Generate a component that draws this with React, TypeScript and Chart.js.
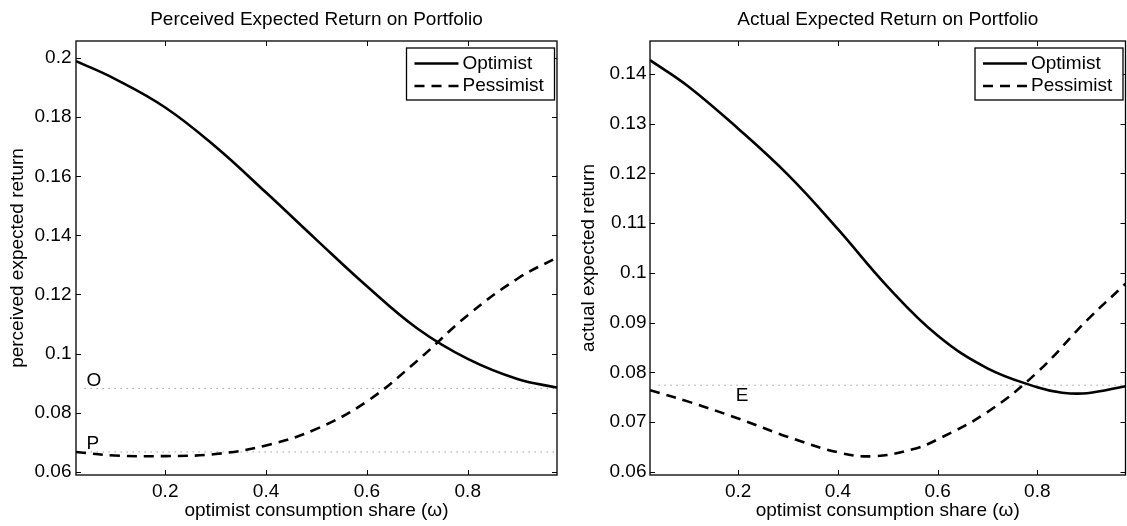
import React, { useEffect, useRef } from "react";
import { Chart, registerables } from "chart.js";

Chart.register(...registerables);

// ---------- data ----------
const omegaGrid = [0.023, 0.1, 0.2, 0.3, 0.4, 0.5, 0.6, 0.7, 0.8, 0.9, 0.977];

const perceivedOptimist = [0.199, 0.193, 0.1833, 0.170, 0.1545, 0.1385, 0.1228, 0.1085, 0.0982, 0.0913, 0.0885];
const perceivedPessimist = [0.0667, 0.0655, 0.0653, 0.066, 0.0689, 0.0745, 0.0838, 0.0976, 0.113, 0.1255, 0.1325];

const omegaActualOpt = [0.023, 0.1, 0.2, 0.3, 0.4, 0.5, 0.6, 0.7, 0.8, 0.85, 0.9, 0.977];
const actualOptimist = [0.1428, 0.1375, 0.129, 0.1197, 0.1088, 0.0972, 0.0874, 0.0808, 0.077, 0.0759, 0.0758, 0.0772];

const omegaActualPes = [0.023, 0.1, 0.2, 0.3, 0.4, 0.47, 0.55, 0.6, 0.7, 0.8, 0.9, 0.977];
const actualPessimist = [0.0764, 0.0741, 0.0707, 0.067, 0.0639, 0.0631, 0.0645, 0.0665, 0.072, 0.08, 0.0905, 0.0978];

const refO = 0.0882;
const refP = 0.0667;
const refE = 0.0774;
const refStart = 0.04;

const xTicks = [0.2, 0.4, 0.6, 0.8];
const yTicksPerceived = [0.06, 0.08, 0.1, 0.12, 0.14, 0.16, 0.18, 0.2];
const yTicksActual = [0.06, 0.07, 0.08, 0.09, 0.1, 0.11, 0.12, 0.13, 0.14];

const xMin = 0.023;
const xMax = 0.977;

const seriesLabels = ["Optimist", "Pessimist"];

// ---------- styling ----------
const FONT = "'Liberation Sans', Arial, Helvetica, sans-serif";
const FS = 19;
const PAGE_H = 526;

const zip = (xs: number[], ys: number[]) => xs.map((x, i) => ({ x, y: ys[i] }));

type RefLabel = { text: string; x: number; y: number; below: boolean };

type PanelSpec = {
  title: string;
  yTitle: string;
  yTicks: number[];
  yMin: number;
  yMax: number;
  optX: number[];
  optY: number[];
  pesX: number[];
  pesY: number[];
  refs: number[];
  refLabels: RefLabel[];
  padRight: number;
  yAxisWidth: number;
  yTitlePad: number;
  yTickPad: number;
};

function decorPlugin(spec: PanelSpec) {
  return {
    id: "decor",
    afterDraw(chart: any) {
      const { ctx, chartArea: a, scales } = chart;
      const xs = scales.x;
      const ys = scales.y;
      ctx.save();

      // reference labels
      ctx.fillStyle = "#000";
      ctx.font = `${FS}px ${FONT}`;
      ctx.textAlign = "left";
      ctx.textBaseline = "alphabetic";
      spec.refLabels.forEach((l) => {
        const px = xs.getPixelForValue(l.x);
        const py = ys.getPixelForValue(l.y);
        ctx.fillText(l.text, px, l.below ? py + 16 : py - 2.5);
      });

      // axes box
      ctx.strokeStyle = "#000";
      ctx.lineWidth = 1.3;
      ctx.strokeRect(a.left, a.top, a.right - a.left, a.bottom - a.top);

      // inward ticks on all four sides
      const L = 5;
      ctx.lineWidth = 1;
      ctx.beginPath();
      xs.ticks.forEach((t: any) => {
        const px = Math.round(xs.getPixelForValue(t.value)) + 0.5;
        ctx.moveTo(px, a.bottom);
        ctx.lineTo(px, a.bottom - L);
        ctx.moveTo(px, a.top);
        ctx.lineTo(px, a.top + L);
      });
      ys.ticks.forEach((t: any) => {
        const py = Math.round(ys.getPixelForValue(t.value)) + 0.5;
        ctx.moveTo(a.left, py);
        ctx.lineTo(a.left + L, py);
        ctx.moveTo(a.right, py);
        ctx.lineTo(a.right - L, py);
      });
      ctx.stroke();

      // legend
      const bw = 148;
      const bh = 52;
      const bx = a.right - 2.5 - bw;
      const by = a.top + 7;
      ctx.fillStyle = "#fff";
      ctx.fillRect(bx, by, bw, bh);
      ctx.strokeStyle = "#000";
      ctx.lineWidth = 1.3;
      ctx.strokeRect(bx, by, bw, bh);
      const rows = [by + 15.5, by + 38];
      chart.data.datasets.slice(0, 2).forEach((ds: any, i: number) => {
        const y = rows[i];
        ctx.save();
        ctx.strokeStyle = ds.borderColor;
        ctx.lineWidth = ds.borderWidth;
        ctx.setLineDash(ds.borderDash || []);
        ctx.beginPath();
        ctx.moveTo(bx + 8, y);
        ctx.lineTo(bx + 52, y);
        ctx.stroke();
        ctx.restore();
        ctx.fillStyle = "#000";
        ctx.font = `${FS}px ${FONT}`;
        ctx.textAlign = "left";
        ctx.textBaseline = "middle";
        ctx.fillText(ds.label, bx + 56, y);
      });

      // title centered over the axes
      ctx.fillStyle = "#000";
      ctx.font = `${FS}px ${FONT}`;
      ctx.textAlign = "center";
      ctx.textBaseline = "middle";
      ctx.fillText(spec.title, (a.left + a.right) / 2, 19.5);

      ctx.restore();
    },
  };
}

function buildConfig(spec: PanelSpec): any {
  const tickFont = { family: FONT, size: FS };
  const refDatasets = spec.refs.map((r) => ({
    label: "ref",
    data: [
      { x: refStart, y: r },
      { x: xMax, y: r },
    ],
    borderColor: "#8a8a8a",
    borderWidth: 1,
    borderDash: [1.2, 4.8],
    pointRadius: 0,
    tension: 0,
    fill: false,
  }));
  return {
    type: "line",
    data: {
      datasets: [
        {
          label: seriesLabels[0],
          data: zip(spec.optX, spec.optY),
          borderColor: "#000",
          borderWidth: 2.6,
          pointRadius: 0,
          tension: 0.4,
          fill: false,
        },
        {
          label: seriesLabels[1],
          data: zip(spec.pesX, spec.pesY),
          borderColor: "#000",
          borderWidth: 2.6,
          borderDash: [10, 7],
          pointRadius: 0,
          tension: 0.4,
          fill: false,
        },
        ...refDatasets,
      ],
    },
    options: {
      responsive: false,
      animation: false,
      devicePixelRatio: 1,
      events: [],
      layout: { padding: { top: 41, right: spec.padRight, bottom: 0, left: 0 } },
      plugins: {
        legend: { display: false },
        title: { display: false },
        tooltip: { enabled: false },
      },
      scales: {
        x: {
          type: "linear",
          min: xMin,
          max: xMax,
          grid: { display: false, drawTicks: false },
          border: { display: false },
          afterBuildTicks: (s: any) => {
            s.ticks = xTicks.map((v) => ({ value: v }));
          },
          afterFit: (s: any) => {
            s.height = 51;
          },
          ticks: {
            font: tickFont,
            color: "#000",
            padding: 5.5,
            maxRotation: 0,
            autoSkip: false,
            callback: (v: any) => String(v),
          },
          title: {
            display: true,
            text: "optimist consumption share (ω)",
            font: tickFont,
            color: "#000",
            padding: { top: 0, bottom: 3.6 },
          },
        },
        y: {
          type: "linear",
          min: spec.yMin,
          max: spec.yMax,
          grid: { display: false, drawTicks: false },
          border: { display: false },
          afterBuildTicks: (s: any) => {
            s.ticks = spec.yTicks.map((v) => ({ value: v }));
          },
          afterFit: (s: any) => {
            s.width = spec.yAxisWidth;
          },
          ticks: {
            font: tickFont,
            color: "#000",
            padding: spec.yTickPad,
            autoSkip: false,
            callback: (v: any) => String(v),
          },
          title: {
            display: true,
            text: spec.yTitle,
            font: tickFont,
            color: "#000",
            padding: { top: spec.yTitlePad, bottom: 0 },
          },
        },
      },
    },
    plugins: [decorPlugin(spec)],
  };
}

const leftSpec: PanelSpec = {
  title: "Perceived Expected Return on Portfolio",
  yTitle: "perceived expected return",
  yTicks: yTicksPerceived,
  yMin: 0.0589,
  yMax: 0.2058,
  optX: omegaGrid,
  optY: perceivedOptimist,
  pesX: omegaGrid,
  pesY: perceivedPessimist,
  refs: [refO, refP],
  refLabels: [
    { text: "O", x: 0.044, y: refO, below: false },
    { text: "P", x: 0.044, y: refP, below: false },
  ],
  padRight: 6,
  yAxisWidth: 76,
  yTitlePad: 6.6,
  yTickPad: 4.5,
};

const rightSpec: PanelSpec = {
  title: "Actual Expected Return on Portfolio",
  yTitle: "actual expected return",
  yTicks: yTicksActual,
  yMin: 0.05934,
  yMax: 0.14664,
  optX: omegaActualOpt,
  optY: actualOptimist,
  pesX: omegaActualPes,
  pesY: actualPessimist,
  refs: [refE],
  refLabels: [{ text: "E", x: 0.195, y: refE, below: true }],
  padRight: 1.5,
  yAxisWidth: 87,
  yTitlePad: 14.1,
  yTickPad: 3.5,
};

function Panel({ spec, left, width }: { spec: PanelSpec; left: number; width: number }) {
  const ref = useRef<HTMLCanvasElement | null>(null);
  useEffect(() => {
    if (!ref.current) return;
    const chart = new Chart(ref.current, buildConfig(spec));
    return () => chart.destroy();
  }, [spec]);
  return (
    <canvas
      ref={ref}
      width={width}
      height={PAGE_H}
      style={{ position: "absolute", left, top: 0, width, height: PAGE_H, display: "block" }}
    />
  );
}

export default function App() {
  return (
    <div
      style={{
        position: "absolute",
        left: 0,
        top: 0,
        width: 1127,
        height: PAGE_H,
        overflow: "hidden",
        background: "#fff",
      }}
    >
      <Panel spec={leftSpec} left={0} width={563} />
      <Panel spec={rightSpec} left={563} width={564} />
    </div>
  );
}
